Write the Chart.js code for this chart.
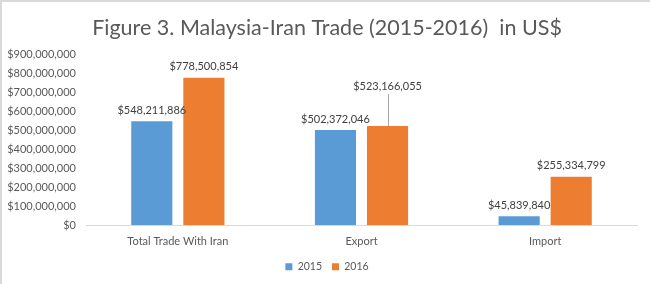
<!DOCTYPE html>
<html>
<head>
<meta charset="utf-8">
<script src="https://cdn.jsdelivr.net/npm/chart.js@4/dist/chart.umd.min.js"></script>
<style>
  html, body { margin: 0; padding: 0; background: #fff; }
  canvas { display: block; }
</style>
</head>
<body>
<canvas id="tradeChart" width="650" height="284"></canvas>
<script>
// Chart data
const categories = ["Total Trade With Iran", "Export", "Import"];
const years = ["2015", "2016"];
const values2015 = [548211886, 502372046, 45839840];
const values2016 = [778500854, 523166055, 255334799];
const yTicks = [0, 100000000, 200000000, 300000000, 400000000, 500000000, 600000000, 700000000, 800000000, 900000000];

const TEXT = "#595959";
const FONT = "Lato, 'Open Sans', sans-serif";

function dollars(v) {
  return "$" + Math.round(v).toLocaleString("en-US");
}

// label raised with a leader line (dataset index, bar index)
const raisedLabels = { "1-1": 41 };

const frame = {
  id: "frame",
  beforeDraw(chart) {
    const ctx = chart.ctx;
    ctx.save();
    ctx.fillStyle = "#fff";
    ctx.fillRect(0, 0, chart.width, chart.height);
    ctx.strokeStyle = "#d9d9d9";
    ctx.lineWidth = 2;
    ctx.beginPath();
    ctx.moveTo(1, chart.height);
    ctx.lineTo(1, 1);
    ctx.lineTo(chart.width, 1);
    ctx.stroke();
    ctx.restore();
  }
};

// Value labels above bars
const valueLabels = {
  id: "valueLabels",
  afterDatasetsDraw(chart) {
    const ctx = chart.ctx;
    ctx.save();
    ctx.font = "11px " + FONT;
    ctx.fillStyle = "#404040";
    ctx.textAlign = "center";
    ctx.textBaseline = "middle";
    chart.data.datasets.forEach((ds, di) => {
      chart.getDatasetMeta(di).data.forEach((bar, i) => {
        const lift = raisedLabels[di + "-" + i];
        if (lift) {
          const ly = bar.y - lift;
          ctx.strokeStyle = "#a6a6a6";
          ctx.lineWidth = 1;
          ctx.beginPath();
          ctx.moveTo(Math.round(bar.x) + 0.5, ly + 9);
          ctx.lineTo(Math.round(bar.x) + 0.5, bar.y);
          ctx.stroke();
          ctx.fillText(dollars(ds.data[i]), bar.x, ly + 1);
        } else {
          ctx.fillText(dollars(ds.data[i]), bar.x, bar.y - 11);
        }
      });
    });
    ctx.restore();
  }
};

const ctx = document.getElementById("tradeChart").getContext("2d");
const tradeChart = new Chart(ctx, {
  type: "bar",
  data: {
    labels: categories,
    datasets: [
      { label: years[0], data: values2015, backgroundColor: "#5B9BD5" },
      { label: years[1], data: values2016, backgroundColor: "#ED7D31" }
    ]
  },
  options: {
    responsive: false,
    animation: false,
    layout: { padding: { left: 4, right: 0, top: 0, bottom: 2 } },
    datasets: {
      bar: { categoryPercentage: 0.567, barPercentage: 0.79 }
    },
    plugins: {
      title: {
        display: true,
        text: "Figure 3. Malaysia-Iran Trade (2015-2016)  in US$",
        color: TEXT,
        font: { family: FONT, size: 21.5, weight: "normal" },
        padding: { top: 15, bottom: 14 }
      },
      legend: {
        position: "bottom",
        labels: {
          color: TEXT,
          font: { family: FONT, size: 10.5 },
          boxWidth: 7,
          boxHeight: 7,
          padding: 10
        }
      },
      tooltip: { enabled: false }
    },
    scales: {
      x: {
        grid: { display: false },
        border: { display: true, color: "#d9d9d9" },
        ticks: { color: TEXT, font: { family: FONT, size: 11 }, padding: 2 },
        afterFit(scale) { scale.height = 26.5; }
      },
      y: {
        min: 0,
        max: 900000000,
        grid: { display: false },
        border: { display: false },
        afterBuildTicks(scale) {
          scale.ticks = yTicks.map(v => ({ value: v }));
        },
        ticks: {
          color: TEXT,
          font: { family: FONT, size: 11 },
          padding: 2,
          callback: v => dollars(v)
        },
        afterFit(scale) { scale.width = 82; }
      },
      // empty right margin so the legend centres on the full width
      spacer: {
        type: "linear",
        position: "right",
        display: true,
        grid: { display: false },
        border: { display: false },
        ticks: { display: false },
        afterFit(scale) { scale.width = 13; }
      }
    }
  },
  plugins: [frame, valueLabels]
});
</script>
</body>
</html>
